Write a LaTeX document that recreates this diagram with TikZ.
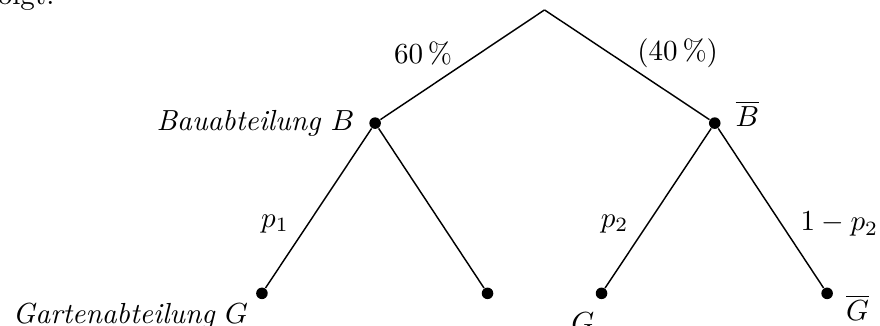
\documentclass[tikz,border=0pt]{standalone}
\usepackage{xcolor}
\usepackage{amsmath}
\usepackage{tikz}
\usetikzlibrary{positioning}

\begin{document}
\begin{tikzpicture}[
  knot/.style={circle,fill=black,inner sep=0pt,minimum size=0.14cm},
  br/.style={line width=0.5pt,black}
]
\useasboundingbox (0,0) rectangle (10.65,-3.945);
\node[anchor=base east,inner sep=0pt] (folgt) at (0.665,-0.05) {folgt:};
% knots of the tree
\coordinate (root) at (6.59,-0.12);
\node[knot] (bau) at (4.54,-1.49) {};
\node[knot] (nbau) at (8.65,-1.49) {};
\node[knot] (gb) at (3.17,-3.55) {};
\node[knot] (ngb) at (5.90,-3.55) {};
\node[knot] (gnb) at (7.28,-3.55) {};
\node[knot] (ngnb) at (10.01,-3.55) {};
% names of the events
\node[left=0.05cm of bau] (lbau) {\textit{Bauabteilung} $B$};
\node[right=0.05cm of nbau,yshift=0.115cm] (lnbau) {$\overline{B}$};
\node[below left=-0.065cm and -0.01cm of gb] (lgb) {\textit{Gartenabteilung} $G$};
\node[below left=0.055cm and -0.09cm of gnb] (lgnb) {$G$};
\node[right=0.03cm of ngnb,yshift=-0.175cm] (lngnb) {$\overline{G}$};
% branches
\draw[br] (root) -- node[midway,left,yshift=4pt] {60\,\%} (bau);
\draw[br] (root) -- node[midway,right,yshift=4pt] {(40\,\%)} (nbau);
\draw[br] (bau) -- node[pos=0.6,left=3pt] {$p_1$} (gb);
\draw[br] (bau) -- (ngb);
\draw[br] (nbau) -- node[pos=0.6,left=3pt] {$p_2$} (gnb);
\draw[br] (nbau) -- node[pos=0.6,right=3pt] {$1-p_2$} (ngnb);
\end{tikzpicture}
\end{document}
